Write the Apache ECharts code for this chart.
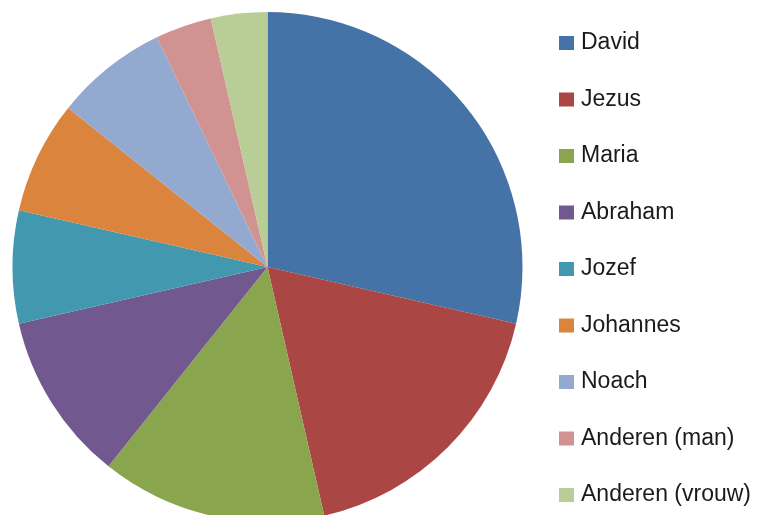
<!DOCTYPE html>
<html>
<head>
<meta charset="utf-8">
<script src="https://cdn.jsdelivr.net/npm/echarts@6/dist/echarts.min.js"></script>
<style>html,body{margin:0;padding:0;background:#fff;}#c{width:759px;height:515px;}</style>
</head>
<body>
<div id="c"></div>
<script>
const names = ['David','Jezus','Maria','Abraham','Jozef','Johannes','Noach','Anderen (man)','Anderen (vrouw)'];
const values = [8,5,4,3,2,2,2,1,1];
const colors = ['#4572A7','#AA4643','#89A54E','#71588F','#4198AF','#DB843D','#93A9CF','#D19392','#B9CD96'];

const chart = echarts.init(document.getElementById('c'));
chart.setOption({
  animation: false,
  color: colors,
  legend: {
    orient: 'vertical',
    left: 559,
    top: 31.5,
    padding: 0,
    icon: 'rect',
    itemWidth: 15,
    itemHeight: 14,
    itemGap: 33.5,
    textStyle: { fontFamily: 'Liberation Sans', fontSize: 23, color: '#1a1a1a', padding: [0,0,0,2] },
    data: names
  },
  series: [{
    type: 'pie',
    center: [267.5, 267],
    radius: 255,
    startAngle: 90,
    clockwise: true,
    label: { show: false },
    labelLine: { show: false },
    emphasis: { disabled: true },
    itemStyle: { borderWidth: 0 },
    data: names.map((n, i) => ({ name: n, value: values[i] }))
  }]
});
</script>
</body>
</html>
